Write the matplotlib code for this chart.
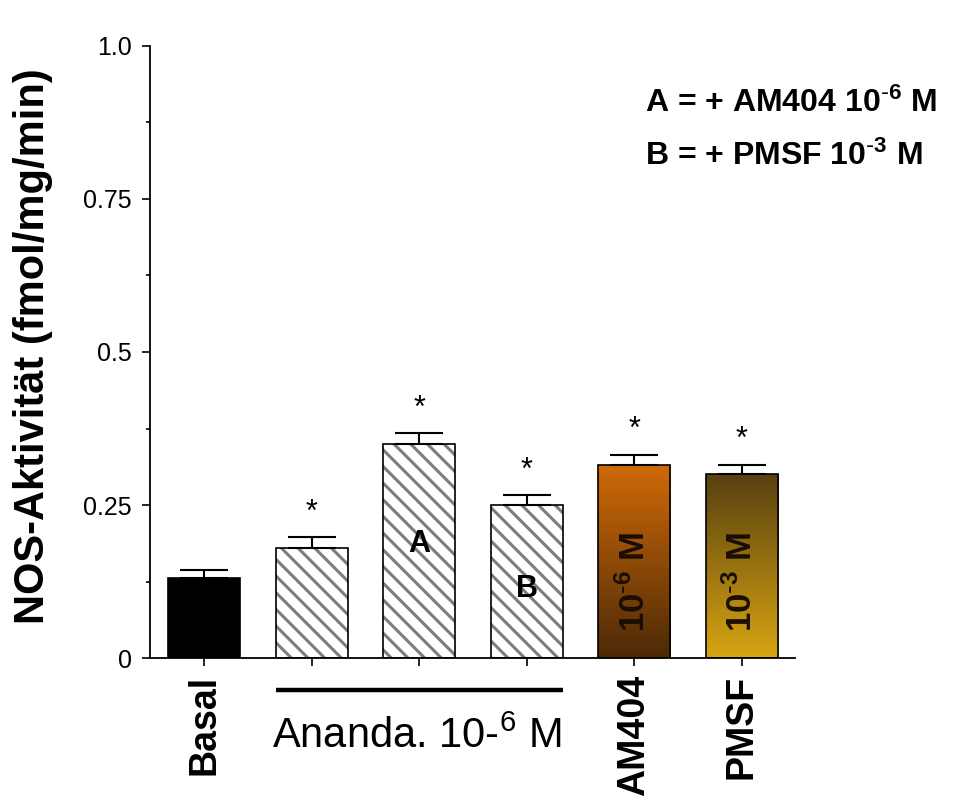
import numpy as np
import matplotlib
matplotlib.use("Agg")
import matplotlib.pyplot as plt
from matplotlib.colors import LinearSegmentedColormap

plt.rcParams['font.family'] = ['Liberation Sans', 'DejaVu Sans']
plt.rcParams['mathtext.default'] = 'regular'
plt.rcParams['hatch.linewidth'] = 2.2
plt.rcParams['hatch.color'] = '#7d7d7d'

# NOS activity per condition (fmol/mg/min)
groups = ['Basal', 'Ananda', 'Ananda+A', 'Ananda+B', 'AM404', 'PMSF']
values = [0.13, 0.18, 0.35, 0.25, 0.315, 0.30]
errors = [0.014, 0.017, 0.017, 0.016, 0.017, 0.016]
significant = [False, True, True, True, True, True]
xtick_labels = ['Basal', '', '', '', 'AM404', 'PMSF']
inbar_labels = ['', '', 'A', 'B', '', '']
inbar_rot_labels = ['', '', '', '', r'10$^{\text{-}6}$ M', r'10$^{\text{-}3}$ M']
y_ticks = [0, 0.25, 0.5, 0.75, 1.0]
y_tick_labels = ['0', '0.25', '0.5', '0.75', '1.0']

fig = plt.figure(figsize=(9.54, 8.01), dpi=100)
ax = fig.add_axes([0.1572, 0.1785, 0.6761, 0.7641])

x = np.arange(len(groups))
width = 0.67

# plain black bar for basal
ax.bar(x[0], values[0], width, color='black', edgecolor='black', linewidth=1.2, zorder=2)

# hatched bars: grey hatch first, black outline on top
for i in (1, 2, 3):
    ax.bar(x[i], values[i], width, color='white', hatch='\\\\', edgecolor='#7d7d7d',
           linewidth=0, zorder=2)
    ax.bar(x[i], values[i], width, facecolor='none', edgecolor='black',
           linewidth=1.2, zorder=3)

# gradient bars
gradients = {4: ('#d06a08', '#4c2a06'), 5: ('#584010', '#d8a512')}
for i, (top_c, bot_c) in gradients.items():
    b = ax.bar(x[i], values[i], width, facecolor='none', edgecolor='black',
               linewidth=1.2, zorder=3)
    cmap = LinearSegmentedColormap.from_list('g%d' % i, [bot_c, top_c])
    grad = np.linspace(0, 1, 256).reshape(-1, 1)
    im = ax.imshow(grad, cmap=cmap, origin='lower', aspect='auto',
                   extent=(x[i] - width / 2, x[i] + width / 2, 0, values[i]), zorder=2)
    im.set_clip_path(b[0])

# error bars (upper only)
ax.errorbar(x, values, yerr=[np.zeros(len(errors)), errors], fmt='none',
            ecolor='black', elinewidth=1.5, capsize=17, capthick=1.5, zorder=4)

# significance stars
for xi, v, e, s in zip(x, values, errors, significant):
    if s:
        ax.annotate('*', (xi, v + e), xytext=(0, 7), textcoords='offset points',
                    ha='center', va='bottom', fontsize=22)

# letters inside bars
for xi, lab in zip(x, inbar_labels):
    if lab:
        ax.text(xi, 0.187 if lab == 'A' else 0.113, lab, ha='center', va='center',
                fontsize=22, fontweight='bold', zorder=5)
for xi, lab in zip(x, inbar_rot_labels):
    if lab:
        ax.text(xi, 0.125, lab, ha='center', va='center', rotation=90,
                fontsize=25, fontweight='bold', color='#1a0e02', zorder=5)

ax.set_xlim(-0.507, 5.493)
ax.set_ylim(0, 1.0)
ax.set_yticks(y_ticks)
ax.set_yticklabels(y_tick_labels, fontsize=18)
ax.set_yticks([0.125, 0.375, 0.625, 0.875], minor=True)
ax.tick_params(axis='y', which='major', length=6, width=1.2, direction='out', pad=7)
ax.tick_params(axis='y', which='minor', length=3, width=1.2, direction='out')
ax.set_xticks(x)
ax.set_xticklabels(xtick_labels, rotation=90, fontsize=27, fontweight='bold', va='top')
ax.tick_params(axis='x', length=6, width=1.2, direction='out', pad=6)

for side in ('top', 'right'):
    ax.spines[side].set_visible(False)
for side in ('left', 'bottom'):
    ax.spines[side].set_linewidth(1.3)

ax.set_ylabel('NOS-Aktivität (fmol/mg/min)', fontsize=30, fontweight='bold')
ax.yaxis.set_label_coords(-0.15, 0.51)

# group bracket for anandamide bars
ax.plot([x[1] - width / 2, x[3] + width / 2], [-0.0523, -0.0523], color='black', lw=3.2,
        transform=ax.get_xaxis_transform(), clip_on=False, solid_capstyle='butt')
ax.text(x[2] - 0.03, -0.147, 'Ananda. 10-$^{6}$ M', ha='center', va='baseline', fontsize=30,
        transform=ax.get_xaxis_transform())

# legend text
ax.text(0.767, 0.892, r'A = + AM404 10$^{\text{-}6}$ M', transform=ax.transAxes,
        fontsize=23, fontweight='bold', va='baseline')
ax.text(0.767, 0.806, r'B = + PMSF 10$^{\text{-}3}$ M', transform=ax.transAxes,
        fontsize=23, fontweight='bold', va='baseline')

fig.savefig('out.png', dpi=100)
